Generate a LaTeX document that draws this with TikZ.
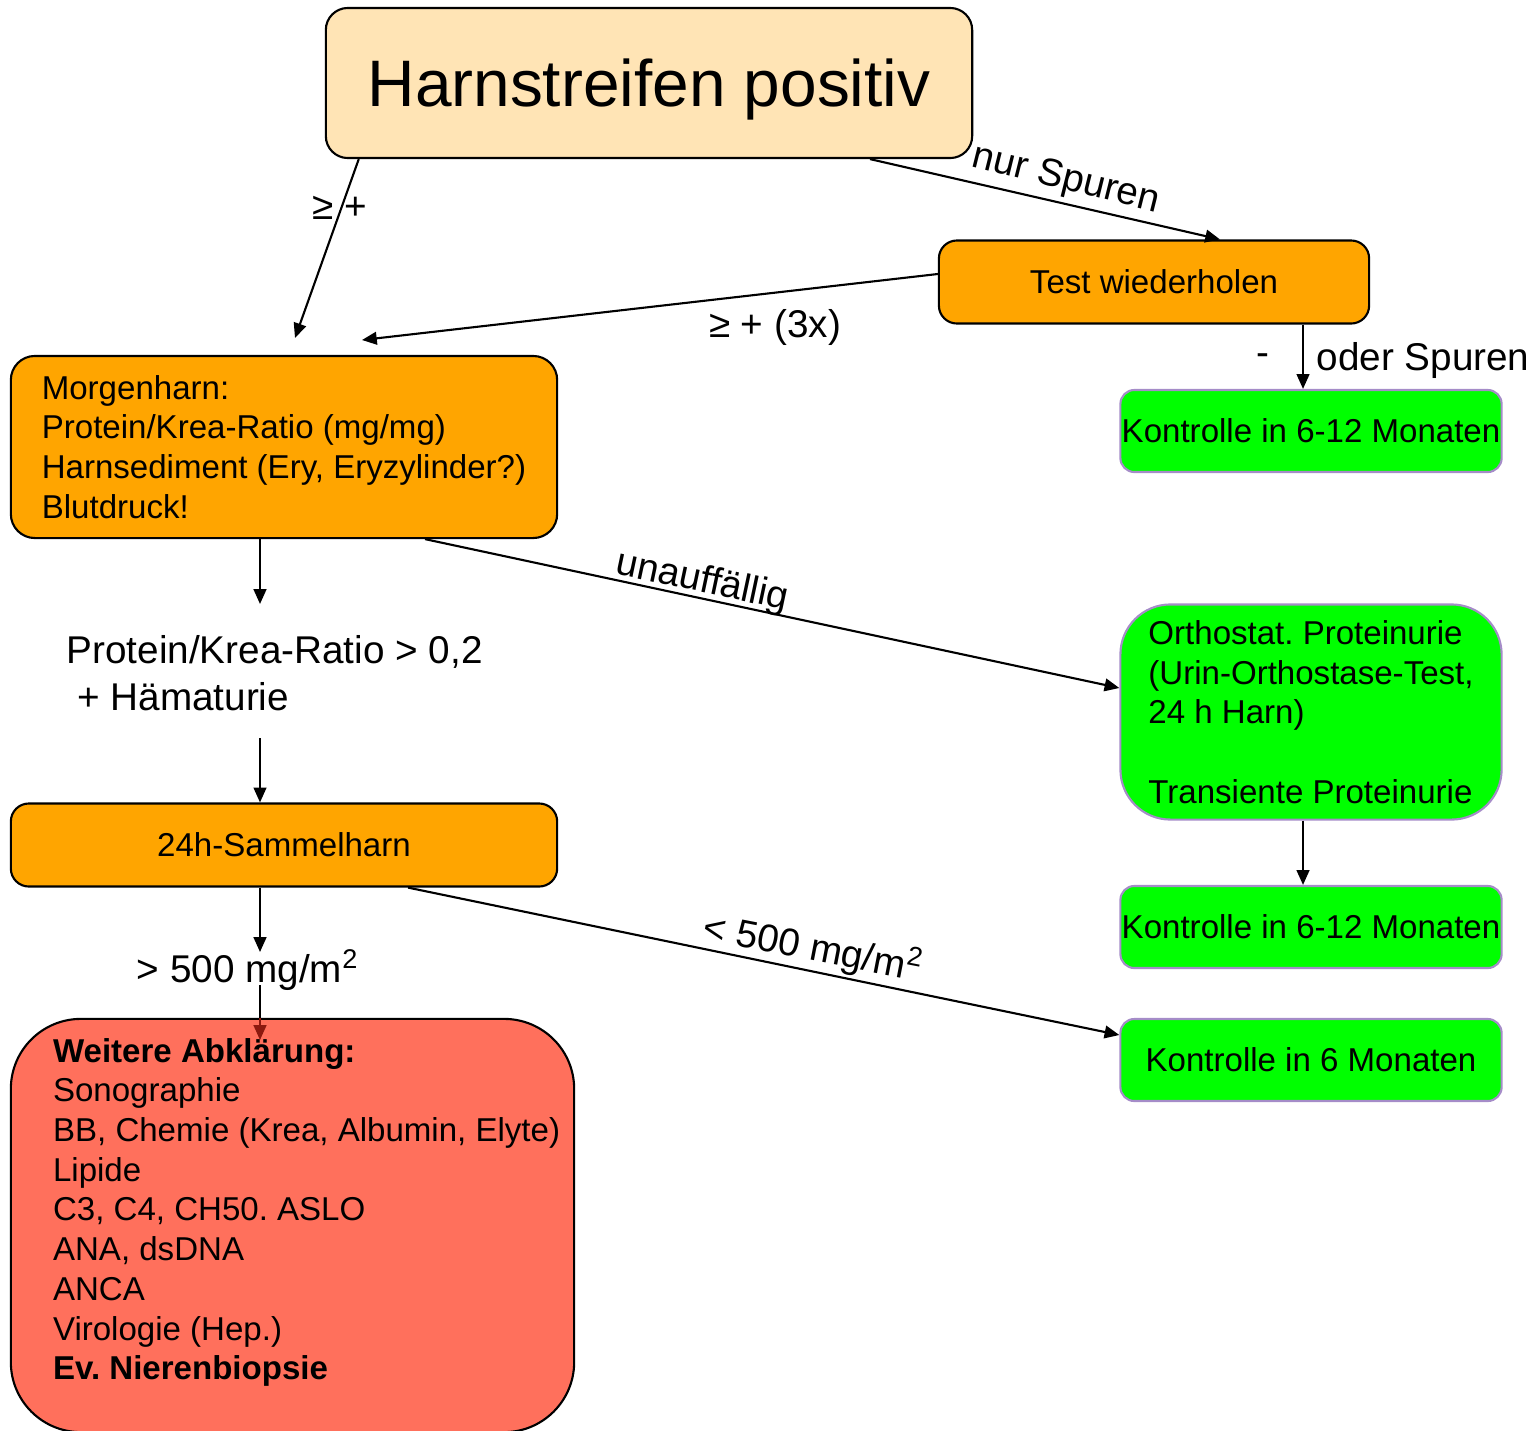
\documentclass[tikz,border=0pt]{standalone}
\usepackage{fontspec}
\setmainfont{Liberation Sans}
\usetikzlibrary{arrows.meta,calc}
\definecolor{moccasin}{RGB}{255,228,181}
\definecolor{orangefill}{RGB}{255,165,0}
\definecolor{greenfill}{RGB}{0,255,0}
\definecolor{lavender}{RGB}{165,140,200}
\definecolor{redfill}{RGB}{255,112,92}
\definecolor{darkarrow}{RGB}{140,25,15}
\newcommand{\boxfont}{\fontsize{9.4}{11.3}\selectfont}
\newcommand{\labfont}{\fontsize{11}{13.4}\selectfont}
\frenchspacing
\begin{document}
\begin{tikzpicture}[x=0.01cm,y=-0.01cm,>={Triangle[length=4.2pt,width=3.6pt]},line width=0.6pt,
  orangebox/.style={draw=black,fill=orangefill,rounded corners=0.18cm,font=\boxfont,inner sep=0pt},
  greenbox/.style={draw=lavender,fill=greenfill,rounded corners=0.14cm,font=\boxfont,inner sep=0pt,
    minimum width=3.81cm,minimum height=0.82cm},
  lab/.style={font=\labfont,inner sep=1pt}]
  \useasboundingbox (0,0) rectangle (1537,1430);
  % boxes
  \node[draw=black,fill=moccasin,rounded corners=0.22cm,minimum width=6.46cm,minimum height=1.5cm,text depth=0pt,
    font=\fontsize{18.7}{22}\selectfont] (harn) at (649,83) {Harnstreifen positiv};
  \node[orangebox,minimum width=4.30cm,minimum height=0.83cm] (test) at (1154,282) {Test wiederholen};
  \node[greenbox] (kontrA) at (1311,431) {Kontrolle in 6-12 Monaten};
  \node[orangebox,rounded corners=0.24cm,minimum width=5.46cm,minimum height=1.82cm,align=left] (morgen) at (284,447)
    {Morgenharn:\\Protein/Krea-Ratio (mg/mg)\\Harnsediment (Ery, Eryzylinder?)\\Blutdruck!};
  \node[lab,anchor=west,align=left] (ratio) at (62,673) {Protein/Krea-Ratio > 0,2\\\ + Hämaturie};
  \node[orangebox,minimum width=5.46cm,minimum height=0.83cm] (sammel) at (284,845) {24h-Sammelharn};
  \node[lab] (gross) at (248,970) {> 500 mg/m\textsuperscript{2}};
  \node[draw=black,fill=redfill,rounded corners=0.7cm,minimum width=5.63cm,minimum height=4.13cm] (abkl) at (292.5,1225.5) {};
  \node[greenbox,rounded corners=0.5cm,minimum height=2.15cm,align=left] (ortho) at (1311,712)
    {Orthostat. Proteinurie\\(Urin-Orthostase-Test,\\24 h Harn)\\[11.3pt]Transiente Proteinurie};
  \node[greenbox] (kontrB) at (1311,927) {Kontrolle in 6-12 Monaten};
  \node[greenbox] (kontrC) at (1311,1060) {Kontrolle in 6 Monaten};
  % labels
  \node[lab,rotate=-14] (spuren) at (1066,180) {nur Spuren};
  \node[lab] (ge1) at (340,208) {≥ +};
  \node[lab] (ge3) at (775,327) {≥ + (3x)};
  \node[lab] (minus) at (1263,360) {-};
  \node[lab,anchor=west] (oder) at (1312,360) {oder Spuren};
  \node[lab,rotate=-12] (unauf) at (702,582) {unauffällig};
  \node[lab,rotate=-11] (klein) at (813,948) {< 500 mg/m\textsuperscript{2}};
  % free ends
  \coordinate (c1) at (295,338);
  \coordinate (c3) at (362,340);
  \coordinate (kA) at ($(kontrA.north)+(-8,0)$);
  \coordinate (kB) at ($(kontrB.north)+(-8,0)$);
  \coordinate (r1) at (260,604);
  \coordinate (r2) at (260,738);
  \coordinate (r3) at (260,952);
  \coordinate (r4) at (260,985);
  \coordinate (r5) at (260,1040);
  % arrows
  \draw[->] ($(harn.south west)+(34,0)$) -- (c1);
  \draw[->] ($(harn.south)+(221,0)$) -- ($(test.north)+(66,0)$);
  \draw[->] ($(test.west)+(0,-8)$) -- (c3);
  \draw[->] (test.south -| kA) -- (kA);
  \draw[->] (morgen.south -| r1) -- (r1);
  \draw[->] ($(morgen.south)+(141,0)$) -- ($(ortho.west)+(0,-24)$);
  \draw[->] (r2) -- (sammel.north -| r2);
  \draw[->] (sammel.south -| r3) -- (r3);
  \draw[->,darkarrow] (abkl.north -| r4) -- (r5);
  \draw (r4) -- (abkl.north -| r4);
  \draw[->] ($(sammel.south)+(124,0)$) -- ($(kontrC.west)+(0,-25)$);
  \draw[->] (ortho.south -| kB) -- (kB);
  % text in the red box
  \node[font=\boxfont,align=left,anchor=north west,inner sep=0pt] (abkltext) at (52,1037)
    {\textbf{Weitere Abklärung:}\\Sonographie\\BB, Chemie (Krea, Albumin, Elyte)\\Lipide\\C3, C4, CH50. ASLO\\
     ANA, dsDNA\\ANCA\\Virologie (Hep.)\\\textbf{Ev. Nierenbiopsie}};
\end{tikzpicture}
\end{document}
